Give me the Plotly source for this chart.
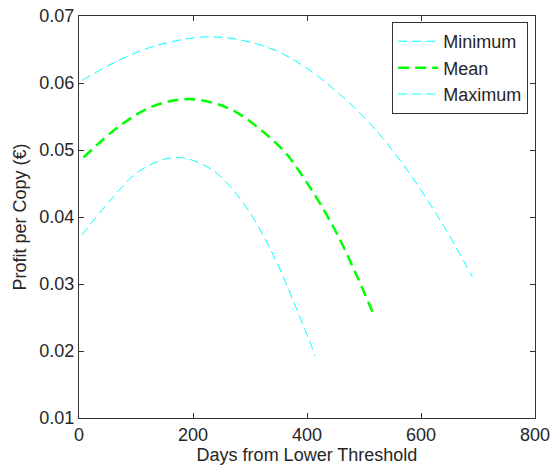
import plotly.graph_objects as go

# Data
min_days = [5, 53, 105, 170, 234, 293, 345, 380, 404, 414]
min_profit = [0.0373, 0.0423, 0.0468, 0.0489, 0.0470, 0.0415, 0.0336, 0.0266, 0.0216, 0.0193]

mean_days = [8, 70, 129, 193, 263, 316, 363, 393, 423, 455, 487, 516]
mean_profit = [0.0489, 0.0535, 0.0565, 0.0576, 0.0562, 0.0532, 0.0495, 0.0460, 0.0420, 0.0371, 0.0313, 0.0256]

max_days = [6, 70, 140, 234, 328, 398, 493, 563, 633, 690]
max_profit = [0.0604, 0.0634, 0.0657, 0.0669, 0.0654, 0.0623, 0.0555, 0.0485, 0.0396, 0.0311]

x_ticks = [0, 200, 400, 600, 800]
y_ticks = [0.01, 0.02, 0.03, 0.04, 0.05, 0.06, 0.07]

FONT = "Liberation Sans, Arial, Helvetica, sans-serif"
TXT = "#262626"
AX = "#333333"

fig = go.Figure()
fig.add_trace(go.Scatter(x=min_days, y=min_profit, name="Minimum", mode="lines",
                         line=dict(color="#00FFFF", width=1, dash="9px,5px", shape="spline")))
fig.add_trace(go.Scatter(x=mean_days, y=mean_profit, name="Mean", mode="lines",
                         line=dict(color="#00FF00", width=2.5, dash="11px,6px", shape="spline")))
fig.add_trace(go.Scatter(x=max_days, y=max_profit, name="Maximum", mode="lines",
                         line=dict(color="#00FFFF", width=1, dash="9px,5px", shape="spline")))

axis_common = dict(showline=True, linecolor=AX, linewidth=1, mirror="ticks",
                   ticks="inside", ticklen=5, tickcolor=AX, showgrid=False, zeroline=False,
                   automargin=False, ticklabeloverflow="allow",
                   tickfont=dict(family=FONT, size=18, color=TXT))

fig.update_xaxes(range=[0, 800], tickvals=x_ticks, ticktext=[str(v) for v in x_ticks],
                 title=dict(text="Days from Lower Threshold", font=dict(family=FONT, size=18, color=TXT), standoff=4),
                 **axis_common)
fig.update_yaxes(range=[0.01, 0.07], tickvals=y_ticks, ticktext=[f"{v:.2f}" for v in y_ticks],
                 title=dict(text="Profit per Copy (€)", font=dict(family=FONT, size=18, color=TXT), standoff=8),
                 **axis_common)

fig.update_layout(
    width=550, height=468,
    margin=dict(l=79, r=15, t=16, b=50),
    paper_bgcolor="white", plot_bgcolor="white",
    font=dict(family=FONT, size=18, color=TXT),
    showlegend=True,
    legend=dict(x=0.985, y=0.985, xanchor="right", yanchor="top",
                bgcolor="white", bordercolor=AX, borderwidth=1,
                font=dict(family=FONT, size=18, color=TXT),
                itemwidth=40, tracegroupgap=0),
)

# Remove the default page margin so the figure fills the window exactly
fig.write_html("out.html",
               config={"displayModeBar": False},
               post_script="document.body.style.margin='0';document.body.style.overflow='hidden';")
